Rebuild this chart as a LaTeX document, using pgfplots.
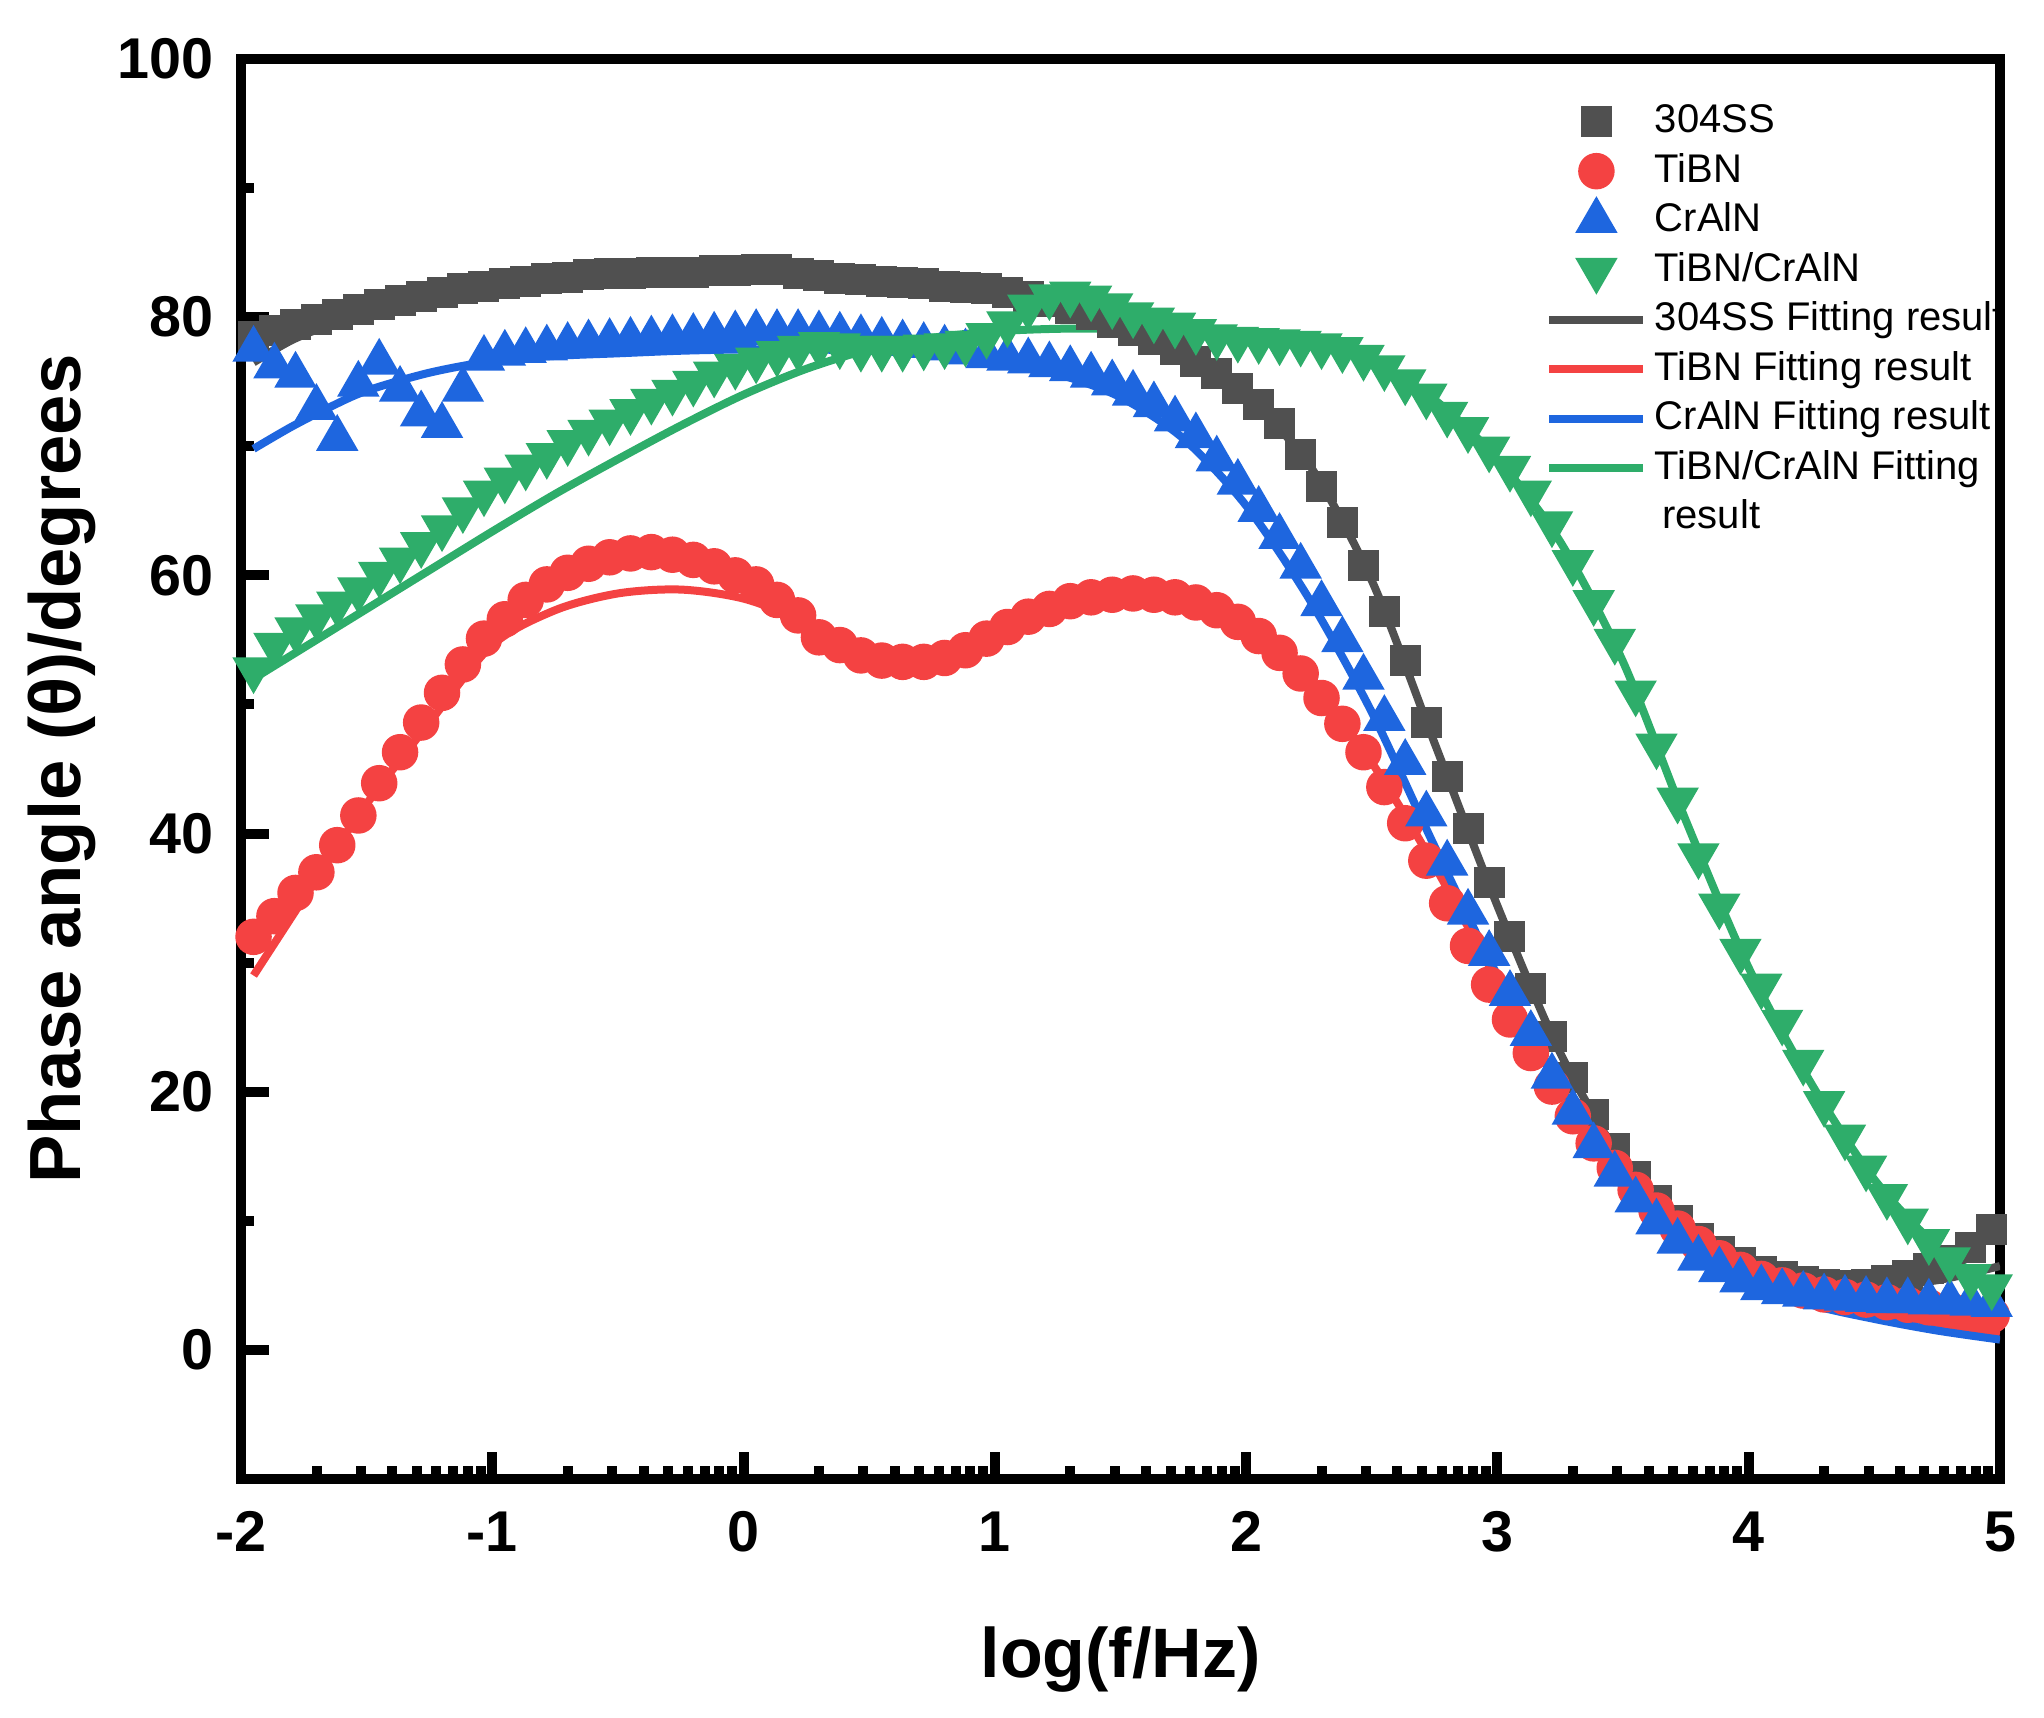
\documentclass[border=0pt]{standalone}
\usepackage{fontspec}
\setmainfont{Liberation Sans}
\usepackage{pgfplots}
\usepackage{pgfplotstable}
\pgfplotsset{compat=1.18}

\definecolor{cgray}{HTML}{505050}
\definecolor{cred}{HTML}{F44242}
\definecolor{cblue}{HTML}{1E66DF}
\definecolor{cgreen}{HTML}{2EAD6A}

% measured points: x = log(f/Hz), phase angles in degrees
\pgfplotstableread{
x      ss    tibn  cr    ml
-1.950 78.5  32.0  77.5  52.7
-1.867 79.0  33.6  76.2  54.6
-1.783 79.4  35.4  75.5  55.8
-1.700 79.8  37.0  73.0  56.8
-1.617 80.2  39.1  70.6  57.8
-1.533 80.6  41.4  74.8  58.9
-1.450 81.0  43.9  76.5  60.1
-1.367 81.3  46.3  74.4  61.2
-1.283 81.6  48.6  72.5  62.4
-1.200 81.9  50.9  71.6  63.7
-1.117 82.2  53.1  74.4  65.1
-1.033 82.4  55.1  76.8  66.4
-0.950 82.6  56.6  77.2  67.4
-0.867 82.8  58.1  77.4  68.4
-0.783 83.0  59.3  77.6  69.3
-0.700 83.1  60.2  77.8  70.3
-0.617 83.3  60.9  78.0  71.1
-0.533 83.4  61.4  78.1  71.9
-0.450 83.4  61.7  78.2  72.7
-0.367 83.5  61.8  78.3  73.5
-0.283 83.5  61.6  78.4  74.2
-0.200 83.5  61.2  78.5  74.9
-0.117 83.6  60.7  78.6  75.6
-0.033 83.6  60.0  78.7  76.2
0.050  83.7  59.3  78.8  76.7
0.133  83.7  58.1  78.8  77.2
0.217  83.4  56.9  78.8  77.6
0.300  83.2  55.2  78.7  77.9
0.383  83.0  54.6  78.6  77.8
0.467  82.9  53.8  78.4  77.6
0.550  82.8  53.4  78.2  77.6
0.633  82.7  53.3  78.0  77.6
0.717  82.6  53.3  77.8  77.7
0.800  82.4  53.6  77.6  77.8
0.883  82.3  54.2  77.3  78.0
0.967  82.2  55.1  77.0  78.6
1.050  81.9  56.0  76.8  79.5
1.133  81.6  56.8  76.6  80.8
1.217  81.2  57.4  76.3  81.6
1.300  80.7  58.0  76.0  81.8
1.383  80.2  58.3  75.5  81.5
1.467  79.6  58.5  74.9  80.9
1.550  79.0  58.6  74.1  80.2
1.633  78.3  58.5  73.2  79.8
1.717  77.5  58.3  72.1  79.4
1.800  76.6  57.9  70.8  78.9
1.883  75.6  57.3  69.0  78.5
1.967  74.5  56.4  67.2  78.3
2.050  73.2  55.3  65.1  78.2
2.133  71.8  54.0  63.0  78.1
2.217  69.4  52.4  60.7  78.0
2.300  66.9  50.5  57.8  77.8
2.383  64.1  48.5  55.0  77.5
2.467  60.8  46.3  52.1  76.9
2.550  57.2  43.6  48.9  76.1
2.633  53.4  40.8  45.5  75.0
2.717  48.6  37.9  41.5  73.9
2.800  44.4  34.6  37.7  72.5
2.883  40.4  31.3  33.9  71.3
2.967  36.2  28.3  30.7  69.8
3.050  32.0  25.6  27.6  68.3
3.133  28.0  23.0  24.5  66.4
3.217  24.3  20.4  21.2  64.0
3.300  21.1  18.1  18.4  61.0
3.383  18.2  16.0  15.8  57.9
3.467  15.6  14.1  13.6  54.9
3.550  13.4  12.4  11.6  50.9
3.633  11.6  10.8  9.9   46.8
3.717  10.0  9.4   8.4   42.6
3.800  8.6   8.2   7.1   38.3
3.883  7.6   7.1   6.2   34.4
3.967  6.8   6.2   5.4   30.9
4.050  6.1   5.5   4.8   28.2
4.133  5.7   5.0   4.5   25.4
4.217  5.3   4.6   4.3   22.3
4.300  5.1   4.3   4.1   19.1
4.383  5.0   4.1   4.0   16.5
4.467  5.1   3.9   3.9   14.1
4.550  5.4   3.7   3.8   11.9
4.633  5.8   3.5   3.8   10.0
4.717  6.3   3.3   3.7   8.4
4.800  6.9   3.1   3.7   7.0
4.883  7.9   2.9   3.6   5.7
4.967  9.3   2.7   3.5   4.9
}\datatable

% fitted curves
\pgfplotstableread{
x     ss    tibn  cr    ml
-1.95 76.5  29.0  69.8  52.0
-1.80 78.2  33.5  71.5  53.8
-1.65 79.4  38.0  73.0  55.6
-1.50 80.4  42.3  74.3  57.4
-1.25 81.6  48.6  75.7  60.4
-1.00 82.4  54.6  76.6  63.4
-0.75 82.9  57.3  77.0  66.3
-0.50 83.3  58.6  77.2  69.0
-0.25 83.5  58.9  77.4  71.6
0.00  83.5  58.2  77.5  74.0
0.25  83.3  56.4  77.5  76.0
0.50  83.0  54.2  77.4  77.5
0.75  82.6  53.6  77.1  78.4
1.00  82.1  55.0  76.6  78.9
1.25  81.2  57.4  75.6  79.1
1.50  79.6  58.5  73.8  79.1
1.75  77.2  58.0  70.6  78.9
2.00  73.8  56.0  65.4  78.5
2.25  68.6  51.8  58.2  77.9
2.50  59.6  45.5  49.4  76.6
2.75  47.0  37.5  39.0  73.6
3.00  34.4  28.6  29.0  69.0
3.25  23.0  20.4  20.3  62.6
3.50  14.6  13.5  13.3  53.3
3.75  9.6   9.0   8.4   41.0
4.00  6.8   6.2   5.3   29.6
4.25  5.4   4.3   3.5   20.6
4.50  5.0   3.0   2.4   13.2
4.75  5.4   2.1   1.5   8.0
5.00  6.5   1.3   0.8   4.6
}\fittable

\begin{document}
\begin{tikzpicture}
\begin{axis}[
  scale only axis,
  width=351.8pt, height=284pt,
  xmin=-2, xmax=5, ymin=-10, ymax=100,
  xtick={-2,-1,0,1,2,3,4,5},
  ytick={0,20,40,60,80,100},
  minor xtick={-1.699,-1.523,-1.398,-1.301,-1.222,-1.155,-1.097,-1.046,
    -0.699,-0.523,-0.398,-0.301,-0.222,-0.155,-0.097,-0.046,
    0.301,0.477,0.602,0.699,0.778,0.845,0.903,0.954,
    1.301,1.477,1.602,1.699,1.778,1.845,1.903,1.954,
    2.301,2.477,2.602,2.699,2.778,2.845,2.903,2.954,
    3.301,3.477,3.602,3.699,3.778,3.845,3.903,3.954,
    4.301,4.477,4.602,4.699,4.778,4.845,4.903,4.954},
  minor ytick={10,30,50,70,90},
  tick pos=left, tick align=inside,
  major tick length=5.5pt, minor tick length=2.6pt,
  tick style={black, line width=2pt},
  axis line style={line width=2pt},
  /pgf/number format/assume math mode=true,
  ticklabel style={font=\fontsize{11.5}{13}\selectfont\bfseries},
  yticklabel style={xshift=-2pt},
  xticklabel style={yshift=-3pt},
  xlabel={log(f/Hz)},
  ylabel={Phase angle (θ)/degrees},
  every axis x label/.style={at={(axis description cs:0.5,-0.140)}, anchor=base,
    font=\fontsize{14}{16}\selectfont\bfseries},
  every axis y label/.style={at={(axis description cs:-0.0915,0.5)}, rotate=90, anchor=base,
    font=\fontsize{14.5}{16}\selectfont\bfseries},
  legend style={at={(rel axis cs:0.741,0.974)}, anchor=north west, draw=none, fill=none,
    font=\fontsize{8}{9.6}\selectfont, inner sep=0pt, row sep=0pt,
    nodes={inner ysep=1pt, inner xsep=1.5pt, text height=6.2pt, text depth=1.7pt}},
  legend cell align=left,
  legend image code/.code={\draw[mark repeat=2,mark phase=2,#1]
    plot coordinates {(0pt,0pt) (9.4pt,0pt) (18.8pt,0pt)};},
]
\addplot[only marks, mark=square*, mark size=2.9pt, color=cgray] table[x=x,y=ss]{\datatable};
\addlegendentry{304SS}
\addplot[only marks, mark=*, mark size=3.45pt, color=cred] table[x=x,y=tibn]{\datatable};
\addlegendentry{TiBN}
\addplot[only marks, mark=triangle*, mark size=4.5pt, color=cblue] table[x=x,y=cr]{\datatable};
\addlegendentry{CrAlN}
\addplot[only marks, mark=triangle*, mark size=4.5pt, mark options={rotate=180}, color=cgreen] table[x=x,y=ml]{\datatable};
\addlegendentry{TiBN/CrAlN}
\addplot[no marks, smooth, line width=1.6pt, color=cgray] table[x=x,y=ss]{\fittable};
\addlegendentry{304SS Fitting result}
\addplot[no marks, smooth, line width=1.6pt, color=cred] table[x=x,y=tibn]{\fittable};
\addlegendentry{TiBN Fitting result}
\addplot[no marks, smooth, line width=1.6pt, color=cblue] table[x=x,y=cr]{\fittable};
\addlegendentry{CrAlN Fitting result}
\addplot[no marks, smooth, line width=1.6pt, color=cgreen] table[x=x,y=ml]{\fittable};
\addlegendentry{TiBN/CrAlN Fitting}
\addlegendimage{empty legend}
\addlegendentry{\hspace{1.5pt}result}
\end{axis}
\pgfresetboundingbox
\path[use as bounding box] ([shift={(-48.2pt,-47.6pt)}]current axis.south west)
  rectangle ([shift={(8.8pt,11.8pt)}]current axis.north east);
\end{tikzpicture}
\end{document}
